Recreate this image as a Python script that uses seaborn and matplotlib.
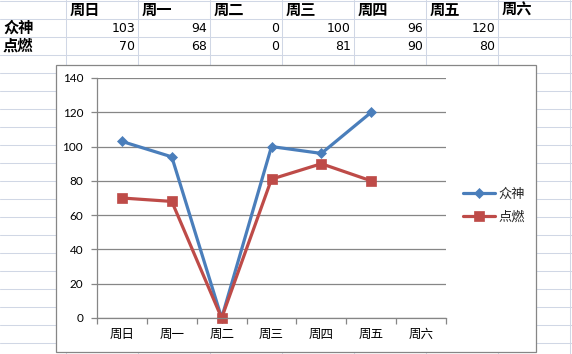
import numpy as np
import pandas as pd
import seaborn as sns
import matplotlib
matplotlib.use("Agg")
import matplotlib.pyplot as plt
from matplotlib.lines import Line2D
from matplotlib.patches import Rectangle

# ---- data ----
days = ['周日', '周一', '周二', '周三', '周四', '周五', '周六']
series_names = ['众神', '点燃']
zhongshen = [103, 94, 0, 100, 96, 120]
dianran = [70, 68, 0, 81, 90, 80]
y_ticks = [0, 20, 40, 60, 80, 100, 120, 140]

sns.set_theme(style="white")
plt.rcParams['font.family'] = ['Noto Sans CJK SC', 'DejaVu Sans']

W, H = 572, 354
fig = plt.figure(figsize=(W / 100, H / 100), dpi=100)

def fx(x):
    return x / W

def fy(y):
    return 1 - y / H

# ---- spreadsheet background grid ----
gridc = '#D0D7E5'
for yy in range(1, H, 18):
    fig.add_artist(Line2D([0, 1], [fy(yy), fy(yy)], color=gridc, lw=0.75,
                          transform=fig.transFigure, zorder=0.5))
for xx in range(66, W + 1, 72):
    fig.add_artist(Line2D([fx(xx), fx(xx)], [0, 1], color=gridc, lw=0.75,
                          transform=fig.transFigure, zorder=0.5))

# ---- spreadsheet table ----
for i, d in enumerate(days):
    fig.text(fx(66 + 72 * i + 4), fy(10), d, ha='left', va='center',
             fontsize=11, fontweight='bold', color='black')
row_vals = [zhongshen, dianran]
for r, (name, vals) in enumerate(zip(series_names, row_vals)):
    yc = 28 + 18 * r
    fig.text(fx(3), fy(yc), name, ha='left', va='center', fontsize=11,
             fontweight='bold', color='black')
    for i, v in enumerate(vals):
        fig.text(fx(66 + 72 * (i + 1) - 3), fy(yc), str(v), ha='right',
                 va='center', fontsize=9, color='black',
                 family=['DejaVu Sans'])

# ---- chart box ----
fig.add_artist(Rectangle((fx(56), fy(352)), (536 - 56) / W, (352 - 65) / H,
                         transform=fig.transFigure, facecolor='white',
                         edgecolor='#868686', lw=0.9, zorder=1))

# ---- chart ----
ax = fig.add_axes([fx(97), fy(318), (446 - 97) / W, (318 - 78) / H])
ax.set_zorder(2)
ax.patch.set_alpha(0)

rows = []
for name, vals in zip(series_names, row_vals):
    for d, v in zip(days, vals):
        rows.append({'day': d, 'series': name, 'value': v})
df = pd.DataFrame(rows)

blue = '#4A7EBB'
red = '#BE4B48'
sns.pointplot(data=df, x='day', y='value', hue='series', order=days,
              hue_order=series_names, palette=[blue, red],
              markers=['D', 's'], linestyles=['-', '-'], errorbar=None,
              ax=ax, linewidth=2.3, legend=False)

data_lines = list(ax.lines[:2])
marker_sizes = [5.4, 6.8]
for ln, ms in zip(data_lines, marker_sizes):
    ln.set_clip_on(False)
    ln.set_markersize(ms)
    ln.set_markeredgewidth(0.5)

ax.set_ylim(0, 140)
ax.set_xlim(-0.5, len(days) - 0.5)
ax.set_yticks(y_ticks)
ax.set_yticklabels([str(t) for t in y_ticks], family=['Lato', 'DejaVu Sans'],
                   fontsize=8.5)
ax.set_xticks(range(len(days)))
ax.set_xticklabels(days, fontsize=9)
ax.set_xticks(np.arange(-0.5, len(days), 1), minor=True)
ax.tick_params(axis='x', which='major', length=0, pad=7, colors='black')
ax.tick_params(axis='x', which='minor', length=4, width=0.9, color='#868686',
               bottom=True)
ax.tick_params(axis='y', which='major', length=4, width=0.9, color='#868686',
               left=True, pad=6, labelcolor='black')
ax.set_xlabel('')
ax.set_ylabel('')
ax.yaxis.grid(True, color='#868686', lw=0.9)
ax.xaxis.grid(False)
ax.set_axisbelow(True)
for s in ['top', 'right']:
    ax.spines[s].set_visible(False)
for s in ['left', 'bottom']:
    ax.spines[s].set_color('#868686')
    ax.spines[s].set_linewidth(0.9)

ax.legend(data_lines, series_names, loc='upper left',
          bbox_to_anchor=(fx(463), fy(188)), bbox_transform=fig.transFigure,
          frameon=False, borderpad=0, borderaxespad=0, handlelength=2.4,
          handletextpad=0.3, labelspacing=0.75, fontsize=9.5)

fig.savefig('out.png', dpi=100)
